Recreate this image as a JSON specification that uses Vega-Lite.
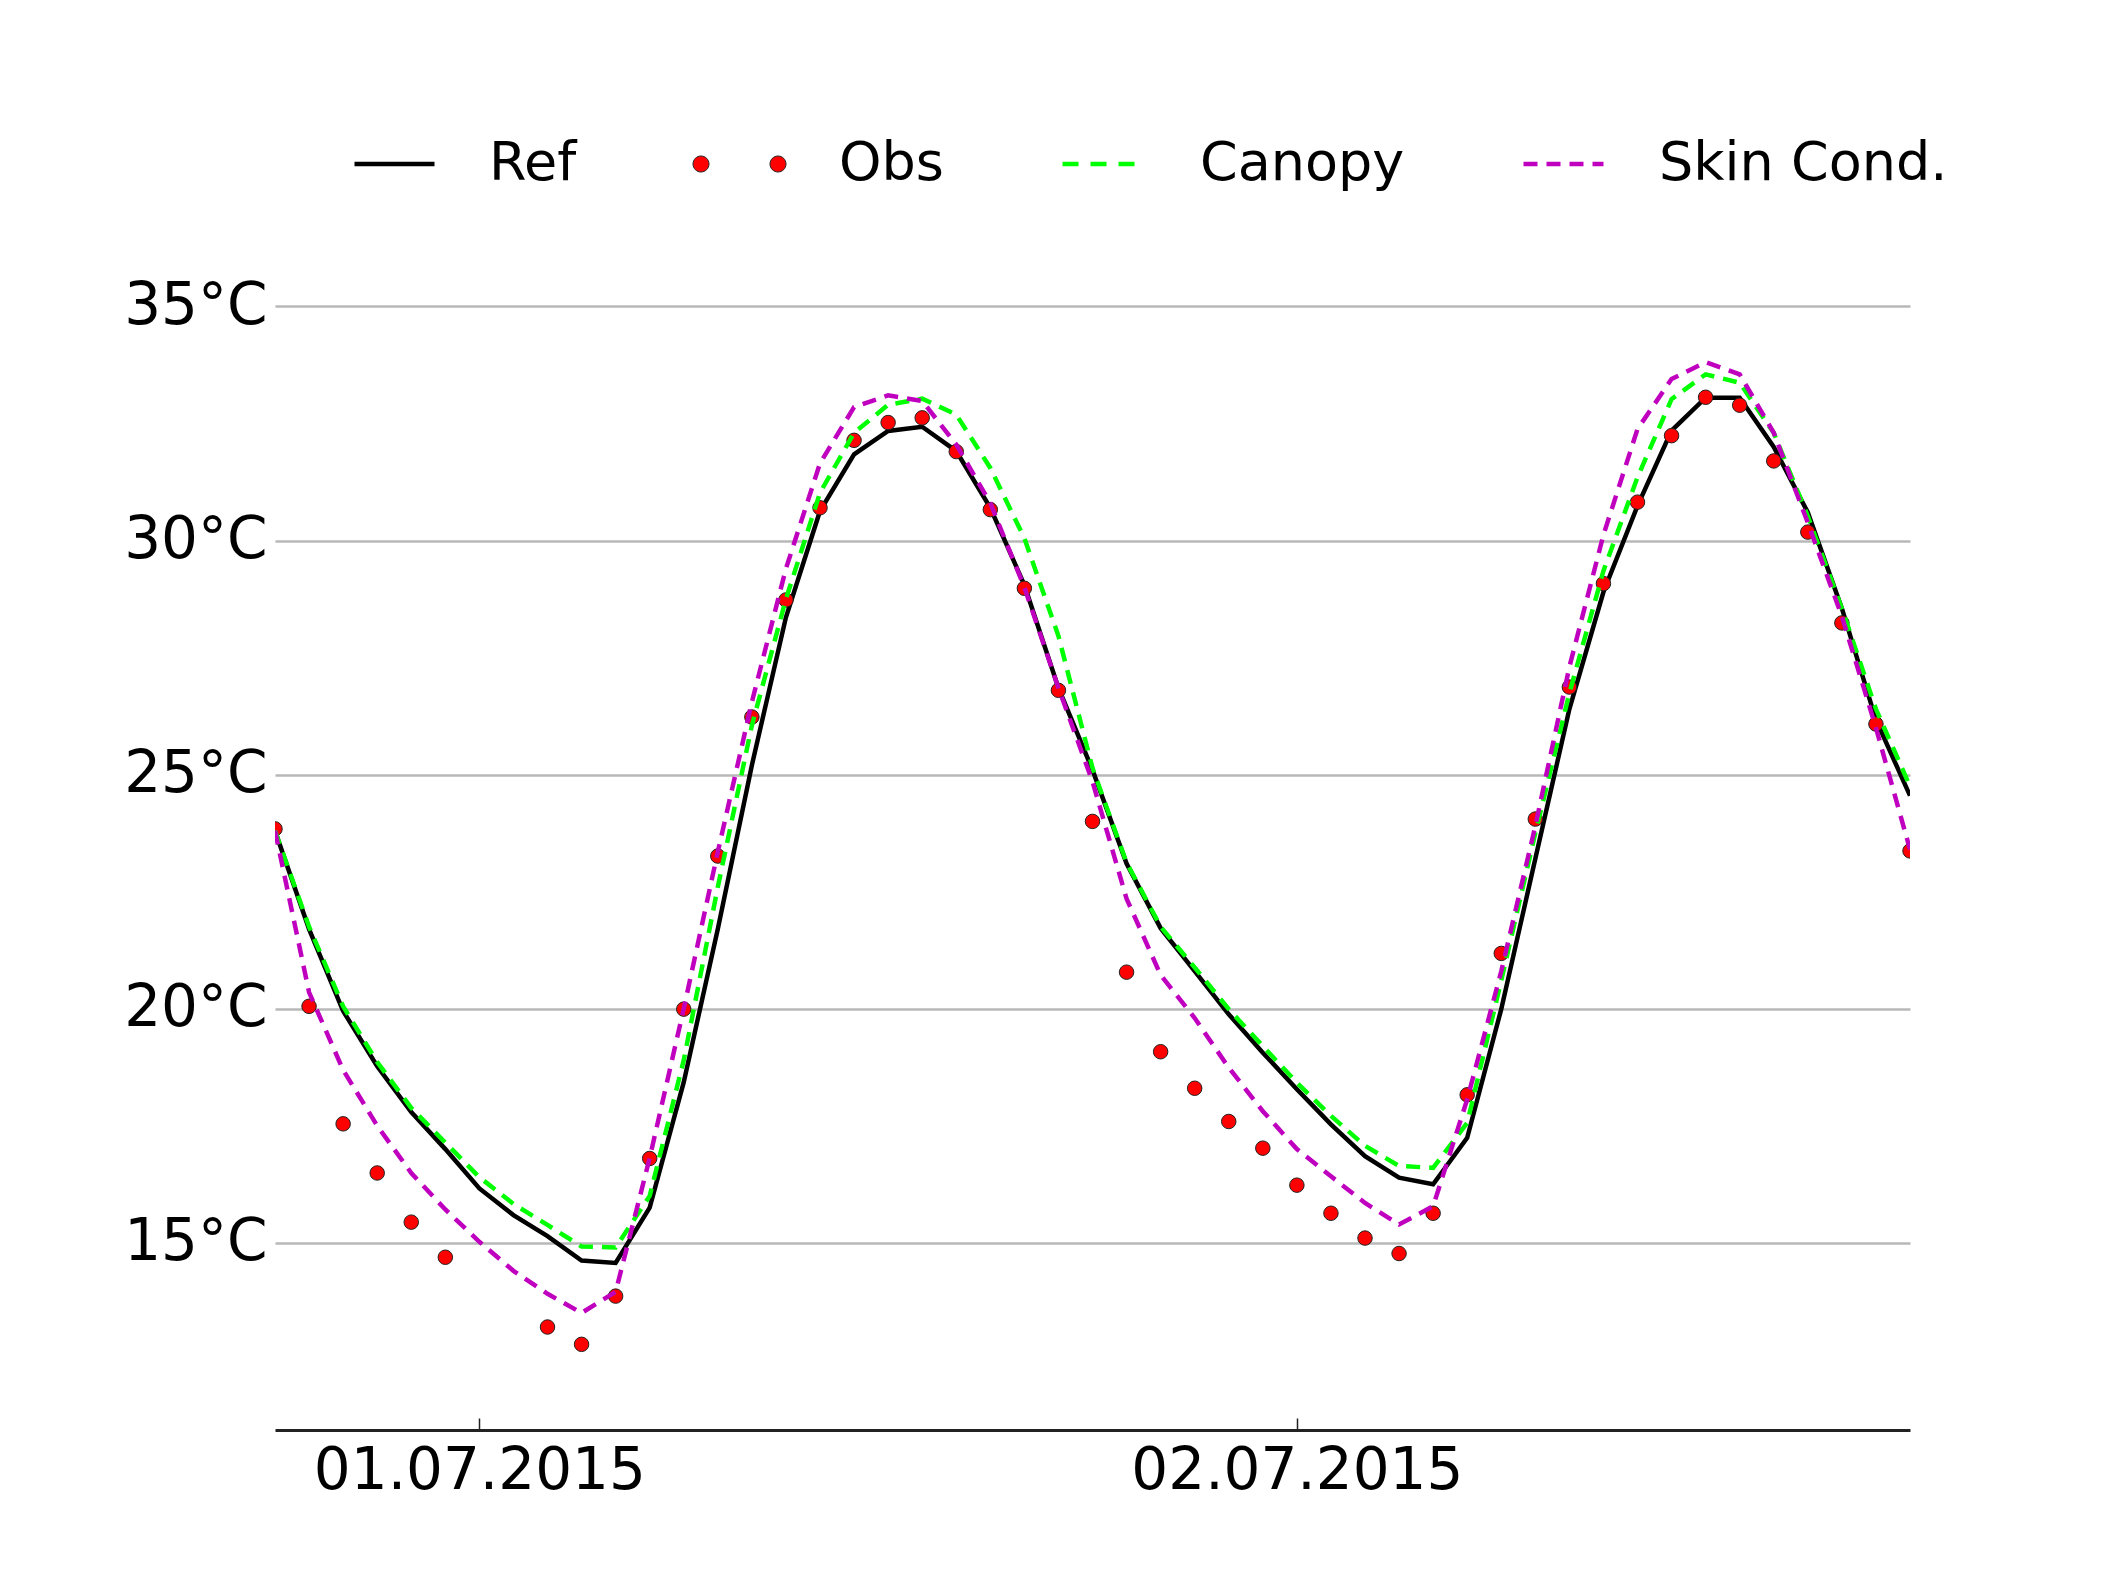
{
  "$schema": "https://vega.github.io/schema/vega-lite/v6.json",
  "width": 1635,
  "height": 1264,
  "autosize": {"type": "none"},
  "padding": {"left": 275, "top": 166, "right": 200, "bottom": 160},
  "background": "white",
  "config": {
    "view": {"stroke": null},
    "font": "DejaVu Sans",
    "axis": {"labelFont": "DejaVu Sans", "labelColor": "#000000"},
    "legend": {
      "orient": "none",
      "title": null,
      "padding": 0,
      "symbolSize": 6400,
      "labelFont": "DejaVu Sans",
      "labelFontSize": 54,
      "labelColor": "#000000",
      "labelLimit": 1000,
      "symbolOpacity": 1
    }
  },
  "data": {
    "values": [
      {"t": "2015-06-30T18:00:00Z", "Ref": 23.8, "Obs": 23.84, "Canopy": 23.8, "Skin": 23.8},
      {"t": "2015-06-30T19:00:00Z", "Ref": 21.7, "Obs": 20.05, "Canopy": 21.75, "Skin": 20.35},
      {"t": "2015-06-30T20:00:00Z", "Ref": 19.95, "Obs": 17.54, "Canopy": 20.05, "Skin": 18.69},
      {"t": "2015-06-30T21:00:00Z", "Ref": 18.77, "Obs": 16.49, "Canopy": 18.86, "Skin": 17.5},
      {"t": "2015-06-30T22:00:00Z", "Ref": 17.79, "Obs": 15.44, "Canopy": 17.88, "Skin": 16.49},
      {"t": "2015-06-30T23:00:00Z", "Ref": 17.0, "Obs": 14.69, "Canopy": 17.14, "Skin": 15.71},
      {"t": "2015-07-01T00:00:00Z", "Ref": 16.16, "Obs": null, "Canopy": 16.4, "Skin": 15.02},
      {"t": "2015-07-01T01:00:00Z", "Ref": 15.59, "Obs": null, "Canopy": 15.83, "Skin": 14.4},
      {"t": "2015-07-01T02:00:00Z", "Ref": 15.14, "Obs": 13.2, "Canopy": 15.38, "Skin": 13.91},
      {"t": "2015-07-01T03:00:00Z", "Ref": 14.62, "Obs": 12.83, "Canopy": 14.92, "Skin": 13.5},
      {"t": "2015-07-01T04:00:00Z", "Ref": 14.57, "Obs": 13.86, "Canopy": 14.9, "Skin": 13.95},
      {"t": "2015-07-01T05:00:00Z", "Ref": 15.75, "Obs": 16.8, "Canopy": 16.0, "Skin": 16.81},
      {"t": "2015-07-01T06:00:00Z", "Ref": 18.43, "Obs": 19.99, "Canopy": 18.9, "Skin": 20.0},
      {"t": "2015-07-01T07:00:00Z", "Ref": 21.7, "Obs": 23.26, "Canopy": 22.6, "Skin": 23.35},
      {"t": "2015-07-01T08:00:00Z", "Ref": 25.2, "Obs": 26.23, "Canopy": 26.05, "Skin": 26.55},
      {"t": "2015-07-01T09:00:00Z", "Ref": 28.36, "Obs": 28.73, "Canopy": 28.75, "Skin": 29.4},
      {"t": "2015-07-01T10:00:00Z", "Ref": 30.63, "Obs": 30.7, "Canopy": 31.02, "Skin": 31.65},
      {"t": "2015-07-01T11:00:00Z", "Ref": 31.84, "Obs": 32.14, "Canopy": 32.3, "Skin": 32.85},
      {"t": "2015-07-01T12:00:00Z", "Ref": 32.34, "Obs": 32.52, "Canopy": 32.9, "Skin": 33.1},
      {"t": "2015-07-01T13:00:00Z", "Ref": 32.43, "Obs": 32.62, "Canopy": 33.03, "Skin": 32.98},
      {"t": "2015-07-01T14:00:00Z", "Ref": 31.91, "Obs": 31.9, "Canopy": 32.69, "Skin": 32.05},
      {"t": "2015-07-01T15:00:00Z", "Ref": 30.7, "Obs": 30.66, "Canopy": 31.55, "Skin": 30.8},
      {"t": "2015-07-01T16:00:00Z", "Ref": 29.05, "Obs": 28.98, "Canopy": 30.05, "Skin": 29.0},
      {"t": "2015-07-01T17:00:00Z", "Ref": 26.85, "Obs": 26.8, "Canopy": 27.96, "Skin": 26.85},
      {"t": "2015-07-01T18:00:00Z", "Ref": 25.1, "Obs": 24.0, "Canopy": 25.14, "Skin": 24.85},
      {"t": "2015-07-01T19:00:00Z", "Ref": 23.1, "Obs": 20.78, "Canopy": 23.12, "Skin": 22.35},
      {"t": "2015-07-01T20:00:00Z", "Ref": 21.72, "Obs": 19.08, "Canopy": 21.75, "Skin": 20.72},
      {"t": "2015-07-01T21:00:00Z", "Ref": 20.8, "Obs": 18.3, "Canopy": 20.88, "Skin": 19.8},
      {"t": "2015-07-01T22:00:00Z", "Ref": 19.88, "Obs": 17.59, "Canopy": 19.99, "Skin": 18.74},
      {"t": "2015-07-01T23:00:00Z", "Ref": 19.06, "Obs": 17.02, "Canopy": 19.2, "Skin": 17.81},
      {"t": "2015-07-02T00:00:00Z", "Ref": 18.28, "Obs": 16.23, "Canopy": 18.42, "Skin": 17.0},
      {"t": "2015-07-02T01:00:00Z", "Ref": 17.53, "Obs": 15.63, "Canopy": 17.71, "Skin": 16.42},
      {"t": "2015-07-02T02:00:00Z", "Ref": 16.85, "Obs": 15.1, "Canopy": 17.07, "Skin": 15.85},
      {"t": "2015-07-02T03:00:00Z", "Ref": 16.39, "Obs": 14.77, "Canopy": 16.64, "Skin": 15.39},
      {"t": "2015-07-02T04:00:00Z", "Ref": 16.25, "Obs": 15.63, "Canopy": 16.6, "Skin": 15.78},
      {"t": "2015-07-02T05:00:00Z", "Ref": 17.24, "Obs": 18.16, "Canopy": 17.56, "Skin": 18.06},
      {"t": "2015-07-02T06:00:00Z", "Ref": 19.99, "Obs": 21.18, "Canopy": 20.6, "Skin": 20.8},
      {"t": "2015-07-02T07:00:00Z", "Ref": 23.2, "Obs": 24.05, "Canopy": 23.75, "Skin": 23.9},
      {"t": "2015-07-02T08:00:00Z", "Ref": 26.4, "Obs": 26.87, "Canopy": 26.74, "Skin": 27.3},
      {"t": "2015-07-02T09:00:00Z", "Ref": 28.9, "Obs": 29.08, "Canopy": 29.35, "Skin": 30.12},
      {"t": "2015-07-02T10:00:00Z", "Ref": 30.74, "Obs": 30.82, "Canopy": 31.35, "Skin": 32.38},
      {"t": "2015-07-02T11:00:00Z", "Ref": 32.35, "Obs": 32.24, "Canopy": 33.02, "Skin": 33.45},
      {"t": "2015-07-02T12:00:00Z", "Ref": 33.05, "Obs": 33.06, "Canopy": 33.55, "Skin": 33.81},
      {"t": "2015-07-02T13:00:00Z", "Ref": 33.05, "Obs": 32.89, "Canopy": 33.37, "Skin": 33.55},
      {"t": "2015-07-02T14:00:00Z", "Ref": 32.0, "Obs": 31.7, "Canopy": 32.3, "Skin": 32.3},
      {"t": "2015-07-02T15:00:00Z", "Ref": 30.6, "Obs": 30.18, "Canopy": 30.52, "Skin": 30.38},
      {"t": "2015-07-02T16:00:00Z", "Ref": 28.55, "Obs": 28.24, "Canopy": 28.55, "Skin": 28.38},
      {"t": "2015-07-02T17:00:00Z", "Ref": 26.17, "Obs": 26.08, "Canopy": 26.4, "Skin": 26.0},
      {"t": "2015-07-02T18:00:00Z", "Ref": 24.55, "Obs": 23.37, "Canopy": 24.75, "Skin": 23.4}
    ]
  },
  "transform": [{"fold": ["Ref", "Obs", "Canopy", "Skin"], "as": ["series", "value"]}],
  "encoding": {
    "x": {
      "field": "t",
      "type": "temporal",
      "scale": {"type": "utc", "domain": [1435687200000, 1435860000000]},
      "axis": {
        "values": [1435708800000, 1435795200000],
        "labelExpr": "utcFormat(datum.value, '%d.%m.%Y')",
        "grid": false,
        "domain": true,
        "domainColor": "#222222",
        "domainWidth": 3,
        "ticks": true,
        "tickColor": "#222222",
        "tickSize": -12,
        "tickWidth": 1.5,
        "labelFontSize": 58,
        "labelPadding": 24,
        "labelLimit": 1000,
        "labelFlush": false,
        "labelOverlap": false,
        "title": null
      }
    },
    "y": {
      "field": "value",
      "type": "quantitative",
      "scale": {"domain": [11, 38], "nice": false, "zero": false},
      "axis": {
        "values": [15, 20, 25, 30, 35],
        "labelExpr": "datum.value + '°C'",
        "grid": true,
        "gridColor": "#b8b8b8",
        "gridWidth": 2.5,
        "domain": false,
        "ticks": false,
        "labelFontSize": 58,
        "labelPadding": 8,
        "title": null
      }
    }
  },
  "layer": [
    {
      "transform": [{"filter": "datum.series === 'Ref'"}],
      "mark": {"type": "line", "strokeWidth": 4.5, "clip": true},
      "encoding": {
        "stroke": {
          "datum": "Ref",
          "type": "nominal",
          "scale": {"range": ["#000000"]},
          "legend": {"legendX": 77, "legendY": -44.5, "symbolType": "stroke", "symbolStrokeWidth": 4.5, "labelOffset": 52}
        }
      }
    },
    {
      "transform": [{"filter": "datum.series === 'Obs'"}],
      "mark": {"type": "point", "filled": true, "size": 210, "stroke": "#222222", "strokeWidth": 1, "opacity": 1, "clip": true},
      "encoding": {
        "fill": {
          "datum": "Obs",
          "type": "nominal",
          "scale": {"range": ["#ff0000"]},
          "legend": {
            "legendX": 424,
            "legendY": -42.5,
            "symbolType": "M -1.1625 0 A 0.2 0.2 0 1 0 -0.7625 0 A 0.2 0.2 0 1 0 -1.1625 0 Z M 0.7625 0 A 0.2 0.2 0 1 0 1.1625 0 A 0.2 0.2 0 1 0 0.7625 0 Z",
            "symbolStrokeWidth": 1,
            "symbolStrokeColor": "#222222",
            "labelOffset": 59
          }
        }
      }
    },
    {
      "transform": [{"filter": "datum.series === 'Canopy'"}],
      "mark": {"type": "line", "strokeWidth": 4.5, "strokeDash": [14, 9], "clip": true},
      "encoding": {
        "color": {
          "datum": "Canopy",
          "type": "nominal",
          "scale": {"range": ["#00ff00"]},
          "legend": {"legendX": 785, "legendY": -44.5, "symbolType": "stroke", "symbolStrokeWidth": 4.5, "symbolDash": [16, 12], "labelOffset": 55}
        }
      }
    },
    {
      "transform": [{"filter": "datum.series === 'Skin'"}],
      "mark": {"type": "line", "strokeWidth": 4.5, "color": "#bf00bf", "clip": true},
      "encoding": {
        "strokeDash": {
          "datum": "Skin Cond.",
          "type": "nominal",
          "scale": {"range": [[14, 9]]},
          "legend": {"legendX": 1246, "legendY": -44.5, "symbolType": "stroke", "symbolStrokeWidth": 4.5, "symbolStrokeColor": "#bf00bf", "symbolDash": [16, 12], "labelOffset": 53}
        }
      }
    }
  ]
}
